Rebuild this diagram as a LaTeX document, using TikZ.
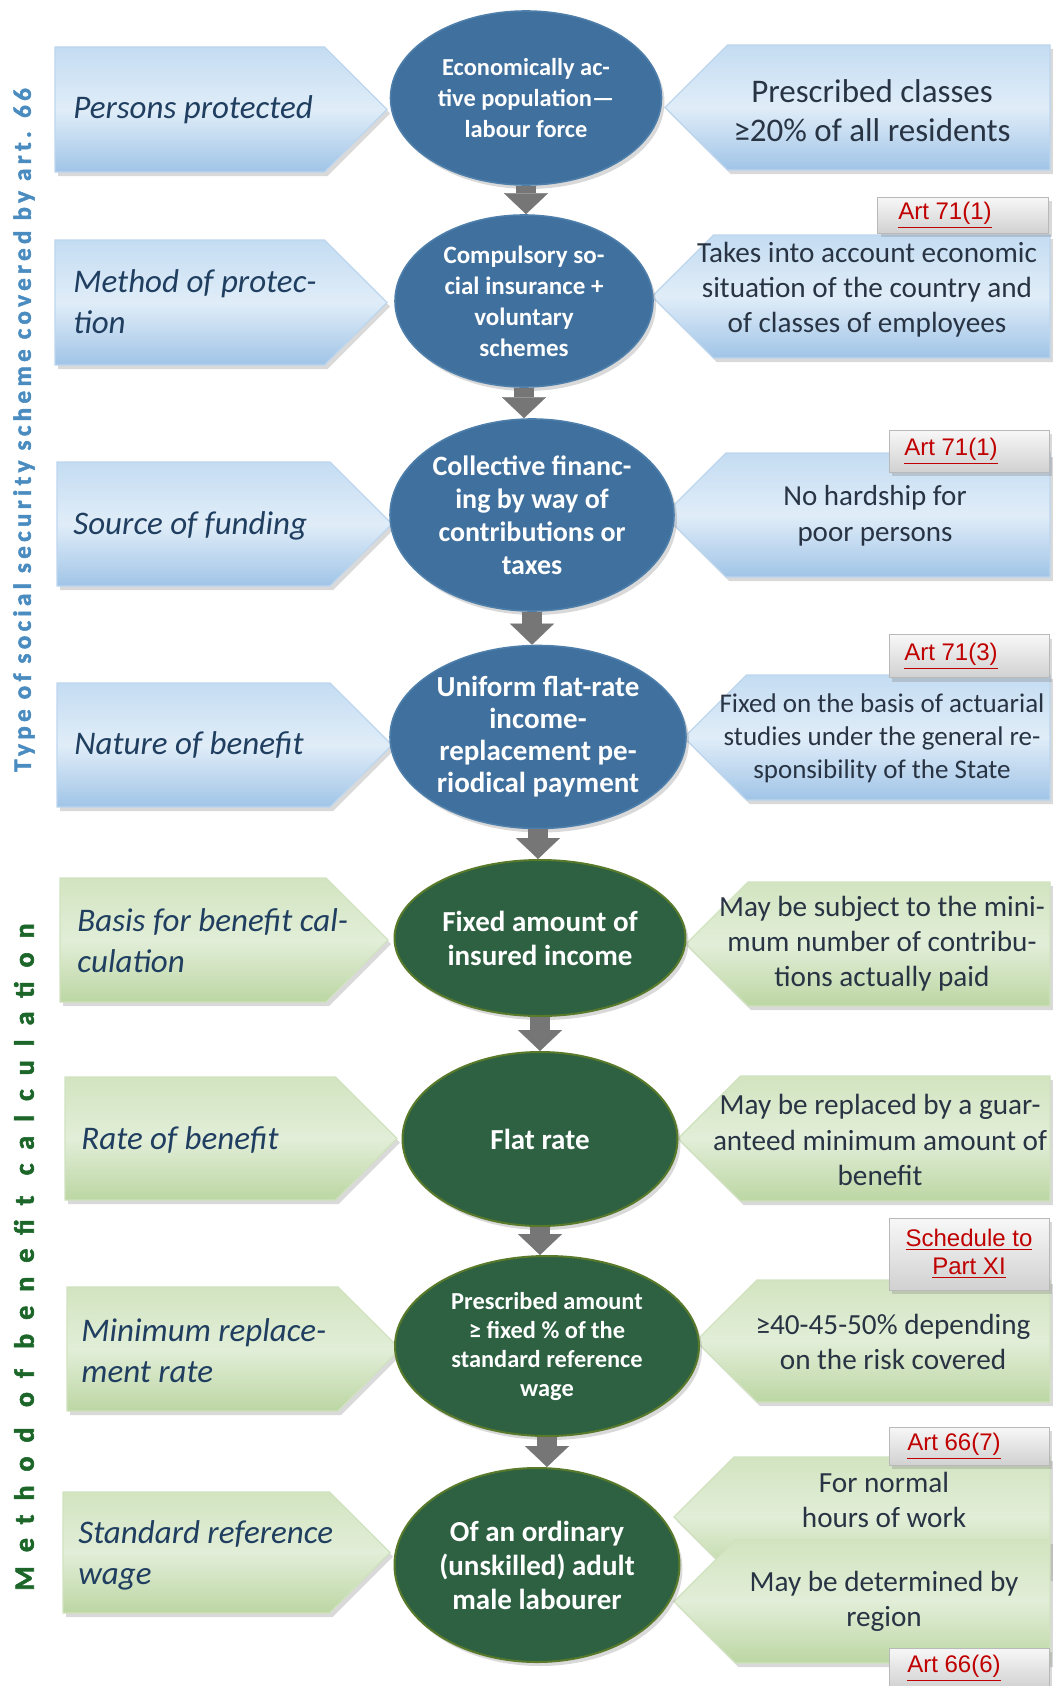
\documentclass[tikz,border=0pt]{standalone}
\usepackage{fontspec}
\setmainfont{Carlito}
\newfontfamily\artfont{Liberation Sans}
\newfontfamily\bluesidefont[LetterSpace=17.5,FakeBold=2]{Carlito}
\newfontfamily\greensidefont[LetterSpace=50,FakeBold=2]{Carlito}
\usepackage{tikz}
\usetikzlibrary{shapes.geometric}
\usetikzlibrary{shadows}
\usetikzlibrary{arrows.meta,calc}

\definecolor{ellblue}{RGB}{64,112,157}
\definecolor{ellbluerim}{RGB}{78,126,170}
\definecolor{ellgreen}{RGB}{45,97,66}
\definecolor{ellgreenrim}{RGB}{88,122,42}
\definecolor{boxblueA}{RGB}{224,237,248}
\definecolor{boxblueB}{RGB}{160,196,231}
\definecolor{boxblueC}{RGB}{196,220,242}
\definecolor{boxgreenA}{RGB}{226,238,216}
\definecolor{boxgreenB}{RGB}{188,214,163}
\definecolor{boxgreenC}{RGB}{210,228,192}
\definecolor{lefttext}{RGB}{31,62,96}
\definecolor{righttext}{RGB}{40,52,68}
\definecolor{arrowgrey}{RGB}{118,118,118}
\definecolor{artred}{RGB}{192,0,0}
\definecolor{sideblue}{RGB}{74,140,192}
\definecolor{sidegreen}{RGB}{28,102,42}

\tikzset{
  softshadow/.style={drop shadow={shadow xshift=1.5pt,shadow yshift=-2pt,opacity=0.3}},
  bluebox/.style={top color=boxblueC,bottom color=boxblueB,middle color=boxblueA,
    draw=boxblueB!70!white,line width=0.6pt,softshadow},
  greenbox/.style={top color=boxgreenC,bottom color=boxgreenB,middle color=boxgreenA,
    draw=boxgreenB!70!white,line width=0.6pt,softshadow},
  ltext/.style={anchor=west,align=left,text=lefttext,inner sep=0pt,
    font=\itshape\fontsize{16.5}{20.5}\selectfont},
  rtext/.style={align=center,text=righttext,inner sep=0pt,
    font=\fontsize{14.6}{17.6}\selectfont},
  blueell/.style={ellipse,inner sep=0pt,fill=ellblue,draw=ellbluerim,line width=0.8pt,
    text=white,align=center,softshadow},
  greenell/.style={ellipse,inner sep=0pt,fill=ellgreen,draw=ellgreenrim,line width=1pt,
    text=white,align=center,softshadow},
  artlabel/.style={rectangle,top color=gray!6,bottom color=gray!36,draw=gray!55,
    line width=0.5pt,softshadow,text=artred,align=center,inner sep=1pt,
    font=\artfont\fontsize{12}{14}\selectfont},
  downarrow/.style={draw=arrowgrey,line width=10pt,
    -{Triangle[width=22pt,length=10.5pt,line width=0.1pt]}}
}

\begin{document}
\begin{tikzpicture}[x=0.5pt,y=-0.5pt]
\useasboundingbox (0,0) rectangle (1053,1686);

% left boxes
\foreach \lx/\tx/\ty/\by/\st in {55/387/47/172/bluebox, 55/387/240/365/bluebox,
  57/392/462/586/bluebox, 57/392/683/807/bluebox, 60/388/878/1002/greenbox,
  65/397/1077/1200/greenbox, 67/400/1287/1411/greenbox, 63/390/1492/1613/greenbox} {
  \pgfmathsetmacro{\hh}{(\by-\ty)/2}
  \path[\st] (\lx,\ty) -- ({\tx-\hh},\ty) -- (\tx,{\ty+\hh}) -- ({\tx-\hh},\by) -- (\lx,\by) -- cycle;
}

% right boxes
\foreach \tx/\ty/\by/\st in {665/45/170/bluebox, 652/235/358/bluebox, 664/453/577/bluebox,
  684/675/800/bluebox, 686/882/1006/greenbox, 678/1076/1201/greenbox,
  696/1280/1402/greenbox, 674/1457/1577/greenbox, 674/1540/1663/greenbox} {
  \pgfmathsetmacro{\hh}{(\by-\ty)/2}
  \path[\st] (\tx,{\ty+\hh}) -- ({\tx+\hh},\ty) -- (1050,\ty) -- (1050,\by) -- ({\tx+\hh},\by) -- cycle;
}

% side titles
\node[rotate=90,text=sideblue,font=\bluesidefont\bfseries\fontsize{12.5}{14}\selectfont] (side1) at (24,430)
  {Type of social security scheme covered by art. 66};
\node[rotate=90,text=sidegreen,font=\greensidefont\bfseries\fontsize{14}{16}\selectfont] (side2) at (24,1257)
  {Method of benefit calculation};

% middle column
\node[blueell,minimum width=135.5pt,minimum height=87pt,font=\bfseries\fontsize{12.2}{15.5}\selectfont] (e1) at (526,98)
  {Economically ac-\\tive population---\\labour force};
\node[blueell,minimum width=129pt,minimum height=86pt,font=\bfseries\fontsize{12.5}{15.5}\selectfont] (e2) at (524,301)
  {Compulsory so-\\cial insurance +\\voluntary\\schemes};
\node[blueell,minimum width=142pt,minimum height=96pt,font=\bfseries\fontsize{14}{16.5}\selectfont] (e3) at (532,515)
  {Collective financ-\\ing by way of\\contributions or\\taxes};
\node[blueell,minimum width=148pt,minimum height=91.5pt,font=\bfseries\fontsize{14.5}{16}\selectfont] (e4) at (538,737)
  {Uniform flat-rate\\income-\\replacement pe-\\riodical payment};
\node[greenell,minimum width=145.5pt,minimum height=78pt,font=\bfseries\fontsize{14.5}{17}\selectfont] (e5) at (540,938)
  {Fixed amount of\\insured income};
\node[greenell,minimum width=137.5pt,minimum height=87pt,font=\bfseries\fontsize{14.5}{16.5}\selectfont] (e6) at (540,1139)
  {Flat rate};
\node[greenell,minimum width=152pt,minimum height=90pt,font=\bfseries\fontsize{12.2}{14.5}\selectfont] (e7) at (547,1346)
  {Prescribed amount\\≥ fixed \% of the\\standard reference\\wage};
\node[greenell,minimum width=142.5pt,minimum height=97pt,font=\bfseries\fontsize{14.5}{17}\selectfont] (e8) at (537,1565)
  {Of an ordinary\\(unskilled) adult\\male labourer};

\foreach \a/\b in {e1/e2,e2/e3,e3/e4,e4/e5,e5/e6,e6/e7,e7/e8} {
  \draw[downarrow] (\a.south) -- (\a.south |- \b.north);
}

% left texts
\node[ltext] (l1) at (73,110) {Persons protected};
\node[ltext] (l2) at (73,302) {Method of protec-\\tion};
\node[ltext] (l3) at (73,526) {Source of funding};
\node[ltext] (l4) at (74,745) {Nature of benefit};
\node[ltext] (l5) at (77,941) {Basis for benefit cal-\\culation};
\node[ltext] (l6) at (81,1140) {Rate of benefit};
\node[ltext] (l7) at (81,1351) {Minimum replace-\\ment rate};
\node[ltext] (l8) at (78,1555) {Standard reference\\wage};

% right texts
\node[rtext,font=\fontsize{16.5}{19.5}\selectfont] (r1) at (872,111) {Prescribed classes\\≥20\% of all residents};
\node[rtext] (r2) at (867,290) {Takes into account economic\\situation of the country and\\of classes of employees};
\node[rtext,font=\fontsize{14.5}{18}\selectfont] (r3) at (875,516) {No hardship for\\poor persons};
\node[rtext,font=\fontsize{13.5}{16.5}\selectfont] (r4) at (882,738) {Fixed on the basis of actuarial\\studies under the general re-\\sponsibility of the State};
\node[rtext] (r5) at (882,944) {May be subject to the mini-\\mum number of contribu-\\tions actually paid};
\node[rtext] (r6) at (880,1140) {May be replaced by a guar-\\anteed minimum amount of\\benefit};
\node[rtext] (r7) at (893,1342) {≥40-45-50\% depending\\on the risk covered};
\node[rtext] (r8) at (884,1500) {For normal\\hours of work};
\node[rtext] (r9) at (884,1601) {May be determined by\\region};

% article references
\node[artlabel,minimum width=85.5pt,minimum height=18pt] (art1) at (963,215) {\underline{Art 71(1)}\hspace*{18pt}};
\node[artlabel,minimum width=80pt,minimum height=21pt] (art2) at (969,451) {\underline{Art 71(1)}\hspace*{18pt}};
\node[artlabel,minimum width=80pt,minimum height=21.5pt] (art3) at (969,656) {\underline{Art 71(3)}\hspace*{18pt}};
\node[artlabel,minimum width=80pt,minimum height=36pt] (art4) at (969,1254) {\underline{Schedule to}\\\underline{Part XI}};
\node[artlabel,minimum width=80pt,minimum height=19pt] (art5) at (969,1446) {\underline{Art 66(7)}\hspace*{15pt}};
\node[artlabel,minimum width=80pt,minimum height=20pt] (art6) at (969,1668) {\underline{Art 66(6)}\hspace*{15pt}};
\end{tikzpicture}
\end{document}
